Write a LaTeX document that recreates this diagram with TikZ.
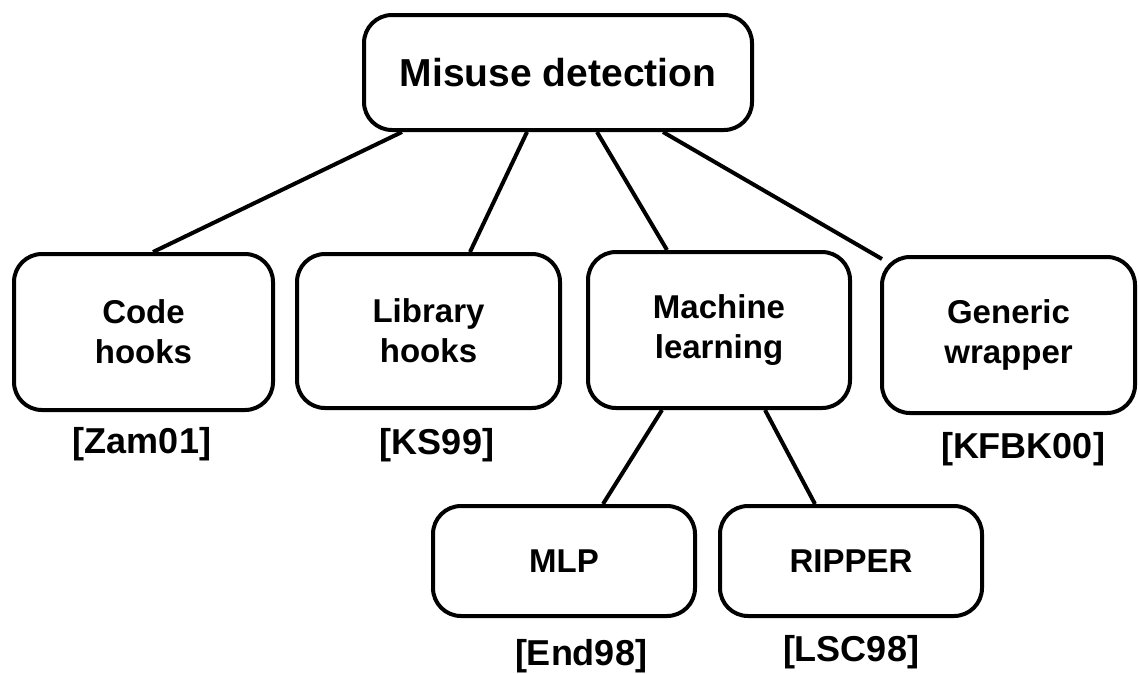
\documentclass[tikz,border=0pt]{standalone}
\usepackage{fontspec}
\setmainfont{Liberation Sans}
\usetikzlibrary{positioning}
\begin{document}
\begin{tikzpicture}[x=1pt,y=1pt,
  box/.style={draw=black, line width=4pt, rounded corners=28pt, fill=white,
    align=center, inner sep=0pt, font=\fontsize{33}{40}\selectfont\bfseries},
  ref/.style={inner sep=0pt, font=\fontsize{36}{40}\selectfont\bfseries},
  link/.style={draw=black, line width=4pt}]
\useasboundingbox (0,0) rectangle (1139,-673);

% root
\node[box, minimum width=388pt, minimum height=115pt,
      font=\fontsize{39}{44}\selectfont\bfseries] (root) at (558,-72.5) {Misuse detection};

% first level
\node[box, minimum width=259pt, minimum height=156pt] (code) at (143.5,-332) {Code\\hooks};
\node[box, minimum width=263pt, minimum height=154pt] (lib)  at (428.5,-331) {Library\\hooks};
\node[box, minimum width=262pt, minimum height=156pt] (ml)   at (719,-330)   {Machine\\learning};
\node[box, minimum width=253pt, minimum height=156pt] (gen)  at (1008.5,-335) {Generic\\wrapper};

% second level
\node[box, minimum width=262pt, minimum height=110pt] (mlp) at (564,-561) {MLP};
\node[box, minimum width=262pt, minimum height=110pt] (rip) at (851,-561) {RIPPER};

% citations
\node[ref] (czam)  at (142,-444)  {[Zam01]};
\node[ref] (cks)   at (437,-445)  {[KS99]};
\node[ref] (ckfbk) at (1023,-449) {[KFBK00]};
\node[ref] (cend)  at (581,-656)  {[End98]};
\node[ref] (clsc)  at (851,-652)  {[LSC98]};

% tree edges
\draw[link] ([xshift=-156pt]root.south) -- ([xshift=9.5pt]code.north);
\draw[link] ([xshift=-31pt]root.south)  -- ([xshift=41.5pt]lib.north);
\draw[link] ([xshift=39pt]root.south)   -- ([xshift=-52pt]ml.north);
\draw[link] ([xshift=105pt]root.south)  -- ([xshift=2pt,yshift=-4pt]gen.north west);
\draw[link] ([xshift=-57pt]ml.south)    -- ([xshift=39pt]mlp.north);
\draw[link] ([xshift=46pt]ml.south)     -- ([xshift=-36pt]rip.north);
\end{tikzpicture}
\end{document}
